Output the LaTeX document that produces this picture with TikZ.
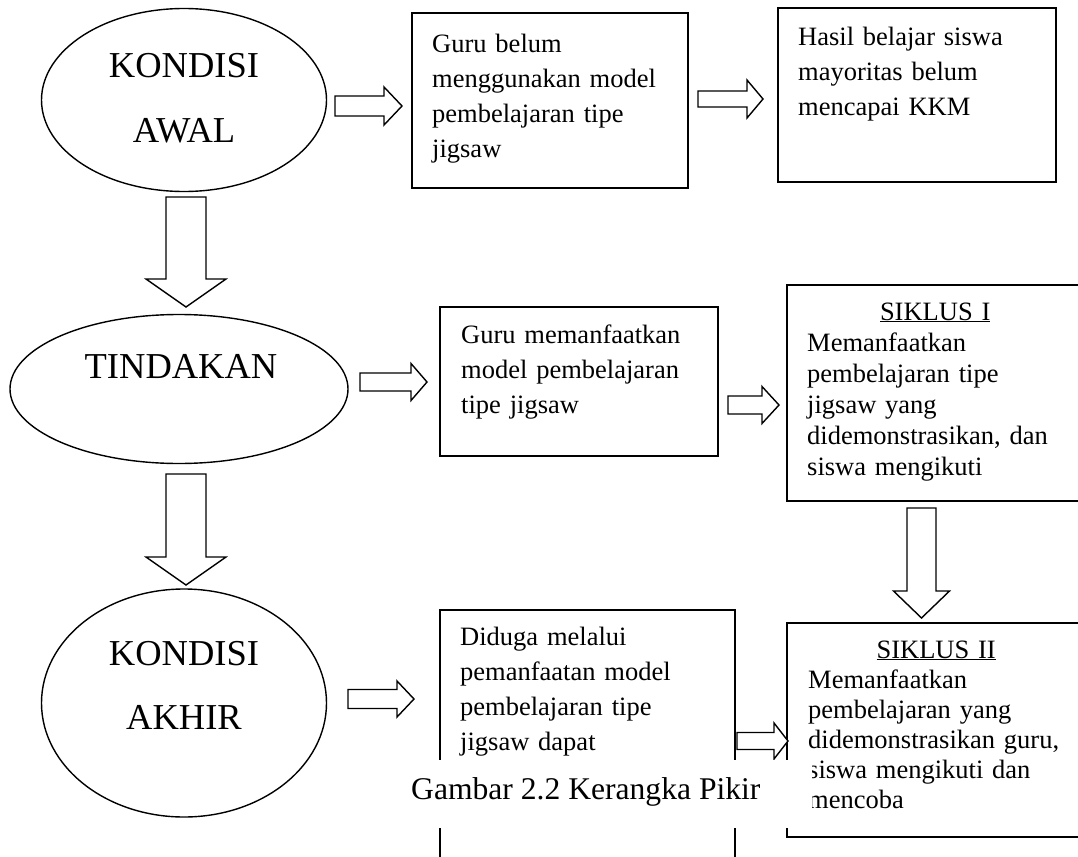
\documentclass[tikz,border=0pt]{standalone}
\usepackage{fontspec}
\setmainfont{Liberation Serif}
\usetikzlibrary{shapes.geometric,calc}

\tikzset{
  oval/.style={ellipse, draw, line width=1.4pt, inner sep=0pt},
  box/.style={rectangle, draw, line width=1.8pt, inner sep=0pt},
  bigtxt/.style={font=\fontsize{36.5}{65}\selectfont, text width=250pt, align=center, inner sep=0pt, anchor=base},
  txt/.style={font=\fontsize{26.5}{35}\selectfont, text width=245pt, align=left, inner sep=0pt, anchor=base west},
  barrow/.style n args={3}{draw, fill=white, line width=1.4pt, line join=miter, to path={
    ($(\tikztostart)!#1!90:(\tikztotarget)$)
    -- ($($(\tikztotarget)!#3!(\tikztostart)$)!#1!90:(\tikztotarget)$)
    -- ($($(\tikztotarget)!#3!(\tikztostart)$)!#2!90:(\tikztotarget)$)
    -- (\tikztotarget)
    -- ($($(\tikztotarget)!#3!(\tikztostart)$)!#2!-90:(\tikztotarget)$)
    -- ($($(\tikztotarget)!#3!(\tikztostart)$)!#1!-90:(\tikztotarget)$)
    -- ($(\tikztostart)!#1!-90:(\tikztotarget)$)
    -- cycle}}
}

\begin{document}
\begin{tikzpicture}[x=1pt, y=-1pt]
    \useasboundingbox (0,0) rectangle (1078,856);
    \clip (0,0) rectangle (1078,856);

    % Nodes
    \node[oval, minimum width=285, minimum height=183] at (184,100) (awal) {};
    \node[oval, minimum width=338, minimum height=149] at (179,389) (tindakan) {};
    \node[oval, minimum width=285, minimum height=228] at (184,703) (akhir) {};
    \node[bigtxt] at (184,78) (awaltxt) {KONDISI\\AWAL};
    \node[bigtxt] at (181,378) (tindakantxt) {TINDAKAN};
    \node[bigtxt, font=\fontsize{36.5}{64}\selectfont] at (184,665) (akhirtxt) {KONDISI\\AKHIR};

    \node[box, minimum width=276, minimum height=175] at (550,100.5) (belum) {};
    \node[box, minimum width=278, minimum height=174] at (917,95) (hasil) {};
    \node[box, minimum width=278, minimum height=149] at (579,381.5) (manfaat) {};
    \node[box, minimum width=295, minimum height=216] at (934.5,393) (siklusa) {};
    \node[box, minimum width=295, minimum height=270] at (587.5,745) (duga) {};
    \node[box, minimum width=295, minimum height=214] at (934.5,730) (siklusb) {};

    \node[txt] at (432,53) (belumtxt) {Guru belum\\menggunakan model\\pembelajaran tipe\\jigsaw};
    \node[txt] at (798,46) (hasiltxt) {Hasil belajar siswa\\mayoritas belum\\mencapai KKM};
    \node[txt] at (461,343) (manfaattxt) {Guru memanfaatkan\\model pembelajaran\\tipe jigsaw};
    \node[txt, text width=256pt, font=\fontsize{26.5}{31}\selectfont] at (807,320) (siklusatxt)
      {\makebox[\linewidth]{\underline{SIKLUS I}}\\Memanfaatkan\\pembelajaran tipe\\jigsaw yang\\didemonstrasikan, dan\\siswa mengikuti};
    \node[txt] at (460,645) (dugatxt) {Diduga melalui\\pemanfaatan model\\pembelajaran tipe\\jigsaw dapat};
    \node[txt, text width=256pt, font=\fontsize{26.5}{30}\selectfont] at (808,658) (siklusbtxt)
      {\makebox[\linewidth]{\underline{SIKLUS II}}\\Memanfaatkan\\pembelajaran yang\\didemonstrasikan guru,\\siswa mengikuti dan\\mencoba};

    % Arrow ends
    \coordinate (a1s) at (335,106);  \coordinate (a1e) at (402,106);
    \coordinate (a2s) at (698,99);   \coordinate (a2e) at (763,99);
    \coordinate (a3s) at (360,382);  \coordinate (a3e) at (427,382);
    \coordinate (a4s) at (728,405);  \coordinate (a4e) at (779,405);
    \coordinate (a5s) at (348,699);  \coordinate (a5e) at (414,699);
    \coordinate (a6s) at (737,741);  \coordinate (a6e) at (788,741);
    \coordinate (d1s) at (186,197);  \coordinate (d1e) at (186,307);
    \coordinate (d2s) at (186,474);  \coordinate (d2e) at (186,585);
    \coordinate (d3s) at (921.5,508); \coordinate (d3e) at (921.5,618);

    % Arrows
    \draw[barrow={10pt}{19pt}{18pt}] (a1s) to (a1e);
    \draw[barrow={8pt}{19pt}{16pt}] (a2s) to (a2e);
    \draw[barrow={9pt}{18.5pt}{16pt}] (a3s) to (a3e);
    \draw[barrow={9pt}{18.5pt}{17pt}] (a4s) to (a4e);
    \draw[barrow={9.5pt}{18pt}{17pt}] (a5s) to (a5e);
    \draw[barrow={8.5pt}{18pt}{14pt}] (a6s) to (a6e);
    \draw[barrow={20pt}{40pt}{28pt}] (d1s) to (d1e);
    \draw[barrow={20pt}{40pt}{28pt}] (d2s) to (d2e);
    \draw[barrow={14.5pt}{28pt}{27pt}] (d3s) to (d3e);

    % Caption
    \node[fill=white, minimum width=414, minimum height=68, inner sep=0pt] at (605,794) (capbg) {};
    \node[font=\fontsize{31.6}{38}\selectfont, inner sep=0pt, anchor=base west] at (411,799) (cap) {Gambar 2.2 Kerangka Pikir};
\end{tikzpicture}
\end{document}
